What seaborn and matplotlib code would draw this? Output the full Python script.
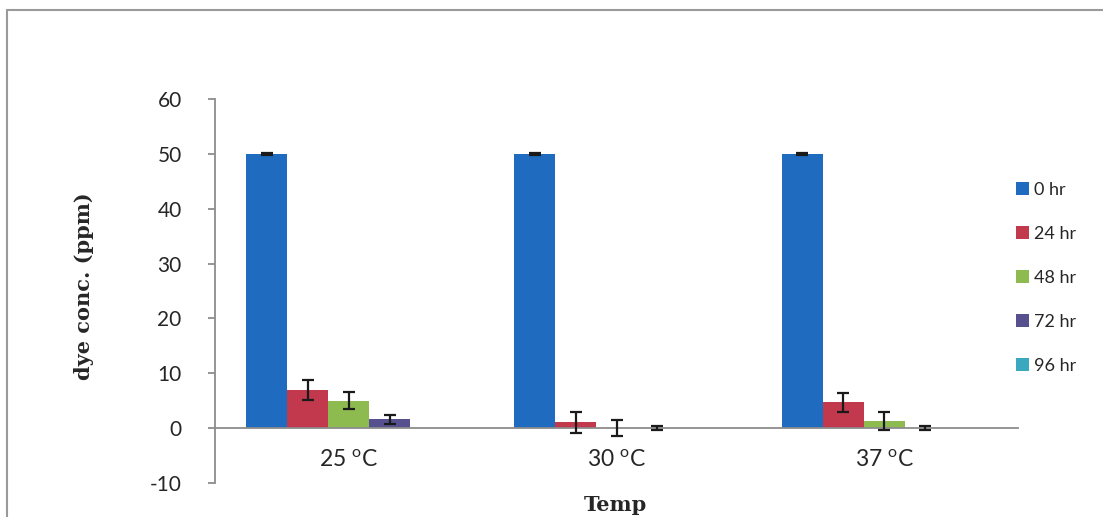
import numpy as np
import pandas as pd
import matplotlib
matplotlib.use("Agg")
import matplotlib.pyplot as plt
from matplotlib.patches import Rectangle
import seaborn as sns

# Dye concentration over time at three incubation temperatures
temps = ["25 $^{\\mathregular{o}}$C", "30 $^{\\mathregular{o}}$C", "37 $^{\\mathregular{o}}$C"]
times = ["0 hr", "24 hr", "48 hr", "72 hr", "96 hr"]
conc_25 = [50.0, 6.9, 5.0, 1.6, 0.0]
conc_30 = [50.0, 1.1, 0.0, 0.0, 0.0]
conc_37 = [50.0, 4.7, 1.3, 0.0, 0.0]
err_25 = [0.15, 1.8, 1.6, 0.8, 0.0]
err_30 = [0.15, 1.9, 1.5, 0.4, 0.0]
err_37 = [0.15, 1.7, 1.7, 0.4, 0.0]
palette = ["#1f6bbf", "#c2384d", "#8dbb4f", "#56508f", "#3aa8bf"]

rows = []
for t, vals, errs in zip(temps, [conc_25, conc_30, conc_37], [err_25, err_30, err_37]):
    for h, v, e in zip(times, vals, errs):
        rows.append({"Temp": t, "time": h, "conc": v, "err": e})
df = pd.DataFrame(rows)

sns.set_style("white")
plt.rcParams["font.family"] = ["Lato", "DejaVu Sans"]
plt.rcParams["mathtext.default"] = "regular"
plt.rcParams["axes.unicode_minus"] = False

fig = plt.figure(figsize=(11.03, 5.17), dpi=100)
ax = fig.add_axes([215 / 1103, 1 - 483 / 517, (1018 - 215) / 1103, (483 - 99) / 517])

sns.barplot(data=df, x="Temp", y="conc", hue="time", order=temps, hue_order=times,
            palette=palette, width=0.765, saturation=1, errorbar=None, ax=ax,
            linewidth=0)

# error bars on each bar
for level, cont in zip(times, ax.containers):
    sub = df[df["time"] == level].set_index("Temp").loc[temps]
    xs = [p.get_x() + p.get_width() / 2 for p in cont.patches]
    ys = sub["conc"].values
    es = sub["err"].values
    mask = es > 0
    ax.errorbar(np.array(xs)[mask], ys[mask], yerr=es[mask], fmt="none",
                ecolor="#1a1a1a", elinewidth=1.6, capsize=4.5, capthick=1.6, zorder=5)

ax.set_ylim(-10, 60)
ax.set_yticks(range(-10, 61, 10))
ax.set_xlim(-0.5, 2.5)
for s in ["top", "right"]:
    ax.spines[s].set_visible(False)
ax.spines["bottom"].set_position(("data", 0))
ax.spines["bottom"].set_color("#8c8c8c")
ax.spines["bottom"].set_linewidth(1.3)
ax.spines["left"].set_color("#8c8c8c")
ax.spines["left"].set_linewidth(1.3)
ax.tick_params(axis="y", direction="out", length=5, color="#8c8c8c", width=1.3,
               labelsize=15, pad=19, left=True)
ax.tick_params(axis="x", length=0, labelsize=16.5, pad=15)
ax.set_xlabel("")
ax.set_ylabel("")

fig.text(615 / 1103, 1 - 505 / 517, "Temp", family=["DejaVu Serif"], weight="bold",
         fontsize=15, ha="center", va="center")
fig.text(84 / 1103, 1 - 286 / 517, "dye conc. (ppm)", family=["DejaVu Serif"],
         weight="bold", fontsize=15, rotation=90, ha="center", va="center")

leg = ax.legend(loc="upper left", bbox_to_anchor=(1007 / 1103, 1 - 173 / 517),
                bbox_transform=fig.transFigure, frameon=False, fontsize=13,
                handlelength=0.7, handleheight=0.7, handletextpad=0.3,
                labelspacing=1.55, borderpad=0)

# outer chart border
fig.patches.append(Rectangle((7 / 1103, -0.05), 1.2, 1 - 10 / 517 + 0.05,
                             transform=fig.transFigure, fill=False,
                             edgecolor="#9a9a9a", linewidth=1.5))

fig.savefig("out.png", dpi=100)
